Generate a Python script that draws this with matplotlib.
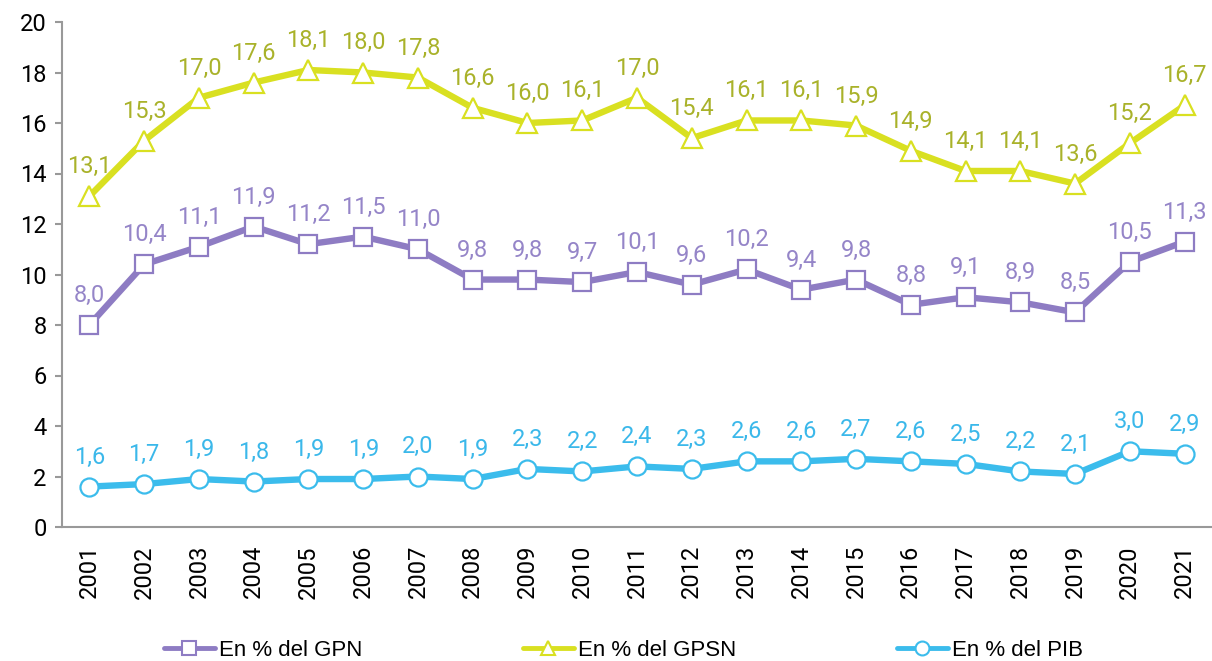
import matplotlib
matplotlib.use("Agg")
import matplotlib.pyplot as plt
from matplotlib.lines import Line2D

plt.rcParams['font.family'] = ['Roboto', 'DejaVu Sans']

years = [str(y) for y in range(2001, 2022)]
gpn = [8.0, 10.4, 11.1, 11.9, 11.2, 11.5, 11.0, 9.8, 9.8, 9.7, 10.1, 9.6, 10.2, 9.4, 9.8, 8.8, 9.1, 8.9, 8.5, 10.5, 11.3]
gpsn = [13.1, 15.3, 17.0, 17.6, 18.1, 18.0, 17.8, 16.6, 16.0, 16.1, 17.0, 15.4, 16.1, 16.1, 15.9, 14.9, 14.1, 14.1, 13.6, 15.2, 16.7]
pib = [1.6, 1.7, 1.9, 1.8, 1.9, 1.9, 2.0, 1.9, 2.3, 2.2, 2.4, 2.3, 2.6, 2.6, 2.7, 2.6, 2.5, 2.2, 2.1, 3.0, 2.9]
names = ["En % del GPN", "En % del GPSN", "En % del PIB"]

c_gpn, c_gpsn, c_pib = "#8E7CC3", "#D9E021", "#3BBCEC"
t_gpn, t_gpsn, t_pib = "#9585C8", "#A9B22A", "#3BB8EA"

fig = plt.figure(figsize=(12.12, 6.61), dpi=100)
ax = fig.add_axes([62/1212, 1-527/661, 1150/1212, (527-22)/661])

x = list(range(len(years)))
series = [(gpsn, c_gpsn, t_gpsn, '^', 14), (gpn, c_gpn, t_gpn, 's', 12.5), (pib, c_pib, t_pib, 'o', 13)]
for vals, c, tc, m, ms in series:
    ax.plot(x, vals, color=c, lw=4.6, marker=m, markersize=ms, markerfacecolor='white',
            markeredgecolor=c, markeredgewidth=1.6, zorder=3)
    for xi, v in zip(x, vals):
        ax.annotate(f"{v:.1f}".replace('.', ','), (xi, v), xytext=(0, 13), textcoords='offset points',
                    ha='center', va='bottom', color=tc, fontsize=17)

ax.set_xlim(-0.5, len(years) - 0.5)
ax.set_ylim(0, 20)
ax.set_yticks(range(0, 21, 2))
ax.set_xticks(x)
ax.set_xticklabels(years, rotation=90)
ax.tick_params(axis='y', labelsize=17, length=5, color='#999999', width=1.5, pad=6)
ax.tick_params(axis='x', labelsize=17, length=0, pad=13)
for s in ['top', 'right']:
    ax.spines[s].set_visible(False)
for s in ['left', 'bottom']:
    ax.spines[s].set_color('#999999')
    ax.spines[s].set_linewidth(1.5)

handles = [
    Line2D([], [], color=c_gpn, lw=3.5, solid_capstyle='round', marker='s', markersize=10, markerfacecolor='white', markeredgecolor=c_gpn, markeredgewidth=1.5),
    Line2D([], [], color=c_gpsn, lw=3.5, solid_capstyle='round', marker='^', markersize=10, markerfacecolor='white', markeredgecolor=c_gpsn, markeredgewidth=1.5),
    Line2D([], [], color=c_pib, lw=3.5, solid_capstyle='round', marker='o', markersize=10, markerfacecolor='white', markeredgecolor=c_pib, markeredgewidth=1.5),
]
fig.legend(handles, names, loc='center', bbox_to_anchor=(0.5145, 1-650/661), ncol=3, frameon=False,
           prop={'family': ['Liberation Sans', 'DejaVu Sans'], 'size': 16},
           handlelength=2.3, handletextpad=0.2, columnspacing=7.2)

fig.savefig("out.png", dpi=100)
